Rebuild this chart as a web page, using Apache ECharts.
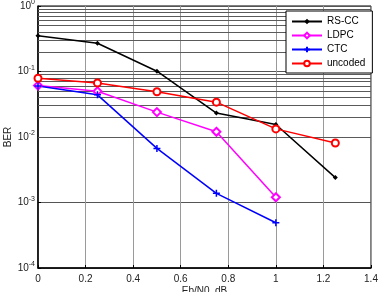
<!DOCTYPE html>
<html><head><meta charset="utf-8">
<script src="https://cdn.jsdelivr.net/npm/echarts@6/dist/echarts.min.js"></script>
<style>html,body{margin:0;padding:0;background:#fff}#c{width:383px;height:292px}</style>
</head><body><div id="c"></div>
<script>
var ebn0 = [0, 0.25, 0.5, 0.75, 1.0, 1.25];
var rscc = [0.35, 0.27, 0.101, 0.0232, 0.0155, 0.0024];
var ldpc = [0.061, 0.050, 0.0240, 0.0120, 0.00120];
var ctc = [0.060, 0.044, 0.0067, 0.00138, 0.00049];
var uncoded = [0.079, 0.067, 0.049, 0.034, 0.0133, 0.0081];
var xTicks = [0, 0.2, 0.4, 0.6, 0.8, 1, 1.2, 1.4];
var decades = [1e-4, 1e-3, 1e-2, 1e-1];
var minorMult = [2, 3, 4, 5, 6, 7, 8, 9];

function pairs(xs, ys) { return ys.map(function (y, i) { return [xs[i], y]; }); }
var minorVals = [];
decades.forEach(function (d) { minorMult.forEach(function (m) { minorVals.push(+(d * m).toPrecision(3)); }); });

var font = 'Liberation Sans, Arial, sans-serif';
var chart = echarts.init(document.getElementById('c'), null, { renderer: 'canvas' });
chart.setOption({
  animation: false,
  backgroundColor: '#fff',
  textStyle: { fontFamily: font },
  grid: { left: 38, right: 12, top: 6, bottom: 24, containLabel: false, outerBoundsMode: 'none', show: true, borderColor: '#000', borderWidth: 1, backgroundColor: 'transparent' },
  legend: {
    data: ['RS-CC', 'LDPC', 'CTC', 'uncoded'],
    orient: 'vertical', left: 286, top: 11, z: 20,
    itemWidth: 30, itemHeight: 7, itemGap: 3,
    padding: [5, 7, 4, 5],
    backgroundColor: '#fff', borderColor: '#000', borderWidth: 1,
    textStyle: { fontSize: 10, color: '#000', fontFamily: font, lineHeight: 11 }
  },
  xAxis: {
    type: 'value', min: 0, max: 1.4, interval: 0.2,
    name: 'Eb/N0, dB', nameLocation: 'middle', nameGap: 18, nameMoveOverlap: false,
    nameTextStyle: { fontSize: 10, color: '#222', fontFamily: font },
    axisLine: { show: true, lineStyle: { color: '#000', width: 1.5 } },
    axisTick: { show: true, inside: true, length: 3, lineStyle: { color: '#000' } },
    axisLabel: { fontSize: 10, color: '#222', margin: 6, formatter: function (v) { return String(+v.toFixed(1)); } },
    splitLine: { show: true, lineStyle: { color: '#9a9a9a', width: 1 } }
  },
  yAxis: {
    type: 'log', logBase: 10, min: 1e-4, max: 1,
    name: 'BER', nameLocation: 'middle', nameGap: 25, nameRotate: 90, nameMoveOverlap: false,
    nameTextStyle: { fontSize: 10, color: '#222', fontFamily: font },
    axisLine: { show: true, lineStyle: { color: '#000', width: 1.5 } },
    axisTick: { show: true, inside: true, length: 3, lineStyle: { color: '#000' } },
    axisLabel: {
      margin: 3, color: '#222', fontSize: 10,
      formatter: function (v) { var e = Math.round(Math.log10(v)); return '10{s|' + e + '}'; },
      rich: { s: { fontSize: 7, verticalAlign: 'top', padding: [0, 0, 7, 0], color: '#222' } }
    },
    splitLine: { show: true, lineStyle: { color: '#555', width: 1 } }
  },
  series: [
    {
      name: 'grid-minor', type: 'line', data: [], silent: true, z: 1,
      markLine: {
        silent: true, symbol: 'none', animation: false, z: 1,
        label: { show: false },
        lineStyle: { color: '#5a5a5a', width: 1, type: 'solid' },
        emphasis: { disabled: true },
        data: minorVals.map(function (v) { return { yAxis: v }; })
      }
    },
    {
      name: 'RS-CC', type: 'line', z: 3, data: pairs(ebn0, rscc),
      symbol: 'diamond', symbolSize: 5,
      lineStyle: { color: '#000', width: 1.5 }, itemStyle: { color: '#000' }
    },
    {
      name: 'LDPC', type: 'line', z: 3, data: pairs(ebn0, ldpc),
      symbol: 'emptyDiamond', symbolSize: 8,
      lineStyle: { color: '#ff00ff', width: 1.5 }, itemStyle: { color: '#ff00ff', borderWidth: 1.5 }
    },
    {
      name: 'CTC', type: 'line', z: 3, data: pairs(ebn0, ctc),
      symbol: 'path://M5,0L5,10M0,5L10,5', symbolSize: 7,
      lineStyle: { color: '#0000ff', width: 1.5 }, itemStyle: { color: '#0000ff', borderColor: '#0000ff', borderWidth: 1.5 }
    },
    {
      name: 'uncoded', type: 'line', z: 3, data: pairs(ebn0, uncoded),
      symbol: 'emptyCircle', symbolSize: 7,
      lineStyle: { color: '#ff0000', width: 1.5 }, itemStyle: { color: '#ff0000', borderWidth: 1.5 }
    }
  ]
});
</script>
</body></html>
